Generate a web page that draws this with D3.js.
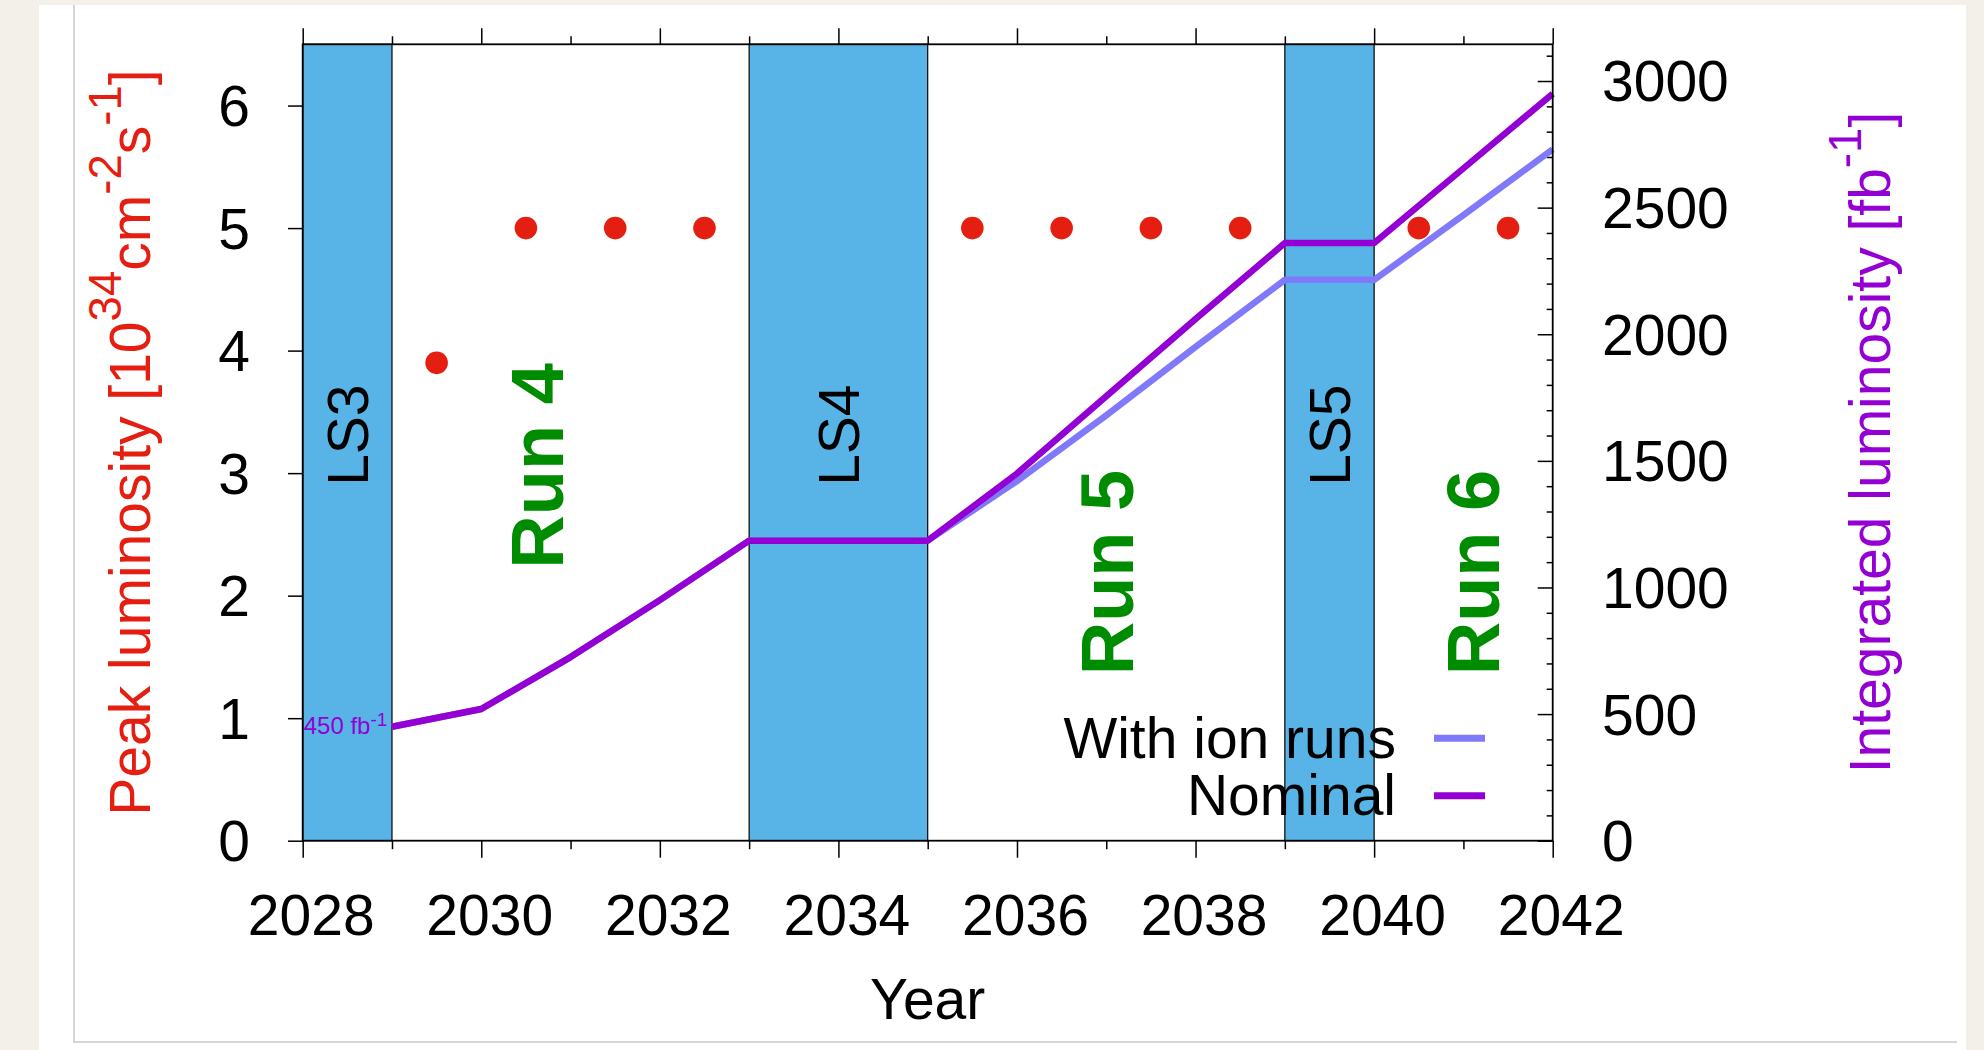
<!DOCTYPE html>
<html>
<head>
<meta charset="utf-8">
<script src="https://cdn.jsdelivr.net/npm/d3@7"></script>
<style>
  html, body { margin: 0; padding: 0; background: #f3f0ea; }
  svg { display: block; }
  text { font-family: "Liberation Sans", Arial, Helvetica, sans-serif; }
</style>
</head>
<body>
<svg id="chart" width="1984" height="1050"></svg>
<script>
// Integrated luminosity (fb^-1) at each year boundary
const lumiYears   = [2029, 2030, 2031, 2032, 2033, 2035, 2036, 2037, 2038, 2039, 2040, 2041, 2042];
const nominalLumi = [450, 520, 725, 950, 1185, 1185, 1450, 1755, 2060, 2360, 2360, 2655, 2950];
const ionRunsLumi = [450, 520, 725, 950, 1185, 1185, 1420, 1680, 1950, 2215, 2215, 2470, 2730];

// Peak luminosity per running year (10^34 cm^-2 s^-1)
const peakYears = [2029.5, 2030.5, 2031.5, 2032.5, 2035.5, 2036.5, 2037.5, 2038.5, 2040.5, 2041.5];
const peakLumi  = [3.9, 5, 5, 5, 5, 5, 5, 5, 5, 5];

// Long shutdowns
const shutdownNames = ["LS3", "LS4", "LS5"];
const shutdownStart = [2028, 2033, 2039];
const shutdownEnd   = [2029, 2035, 2040];

// Run labels: year of the label centre, peak-axis value where the text starts
const runNames = ["Run 4", "Run 5", "Run 6"];
const runYear  = [2030.62, 2037, 2041.1];
const runBase  = [2.22, 1.35, 1.35];

// Axis ticks
const yearTicks      = [2028, 2030, 2032, 2034, 2036, 2038, 2040, 2042];
const yearMinorTicks = [2029, 2031, 2033, 2035, 2037, 2039, 2041];
const peakTicks      = [0, 1, 2, 3, 4, 5, 6];
const intTicks       = [0, 500, 1000, 1500, 2000, 2500, 3000];
const intMinorTicks  = d3.range(0, 3101, 100).filter(v => v % 500 !== 0);

const legendNames = ["With ion runs", "Nominal"];
const startLumi = 450;

// ---- layout ----
const L = 302.7, R = 1552.7, T = 44.3, B = 840.7;
const FS = 57;
const C = {
  band: "#58b4e6", red: "#e41e10", nominal: "#9400d3", ion: "#8079fa",
  green: "#008c00", frame: "#000"
};

const svg = d3.select("#chart");

// page card
svg.append("rect").attr("x", 39).attr("y", 5).attr("width", 1927).attr("height", 1045).attr("fill", "#fff");
svg.append("path").attr("d", "M74,5V1042H1957").attr("fill", "none").attr("stroke", "#c9c9c9").attr("stroke-width", 1.5);

const x  = d3.scaleLinear().domain([2028, 2042]).range([L, R]);
const yL = d3.scaleLinear().domain([0, 6.5]).range([B, T]);
const yR = d3.scaleLinear().domain([0, 3145]).range([B, T]);

// shutdown bands
const bands = svg.append("g");
shutdownNames.forEach((n, i) => {
  bands.append("rect")
    .attr("x", x(shutdownStart[i])).attr("y", T)
    .attr("width", x(shutdownEnd[i]) - x(shutdownStart[i])).attr("height", B - T)
    .attr("fill", C.band).attr("stroke", "#000").attr("stroke-width", 1.2);
  const cx = (x(shutdownStart[i]) + x(shutdownEnd[i])) / 2;
  bands.append("text")
    .attr("transform", `translate(${cx},${yL(3.31)}) rotate(-90)`)
    .attr("text-anchor", "middle").attr("dy", "0.36em")
    .attr("font-size", FS).attr("fill", "#000").text(n);
});

// axes
function styleAxis(g) {
  g.select(".domain").remove();
  g.selectAll(".tick line").attr("stroke", "#000").attr("stroke-width", 1.5);
  g.selectAll("text").attr("font-size", FS).attr("fill", "#000")
    .attr("font-family", '"Liberation Sans", Arial, Helvetica, sans-serif');
}

const gBot = svg.append("g").attr("transform", `translate(0,${B})`)
  .call(d3.axisBottom(x).tickValues(yearTicks).tickSize(17).tickFormat(d3.format("d")));
styleAxis(gBot);
gBot.selectAll("text").attr("x", 8).attr("y", 0).attr("dy", 0)
  .attr("transform", `translate(0,${935 - B})`);
const gBotMinor = svg.append("g").attr("transform", `translate(0,${B})`)
  .call(d3.axisBottom(x).tickValues(yearMinorTicks).tickSize(8.5).tickFormat(""));
styleAxis(gBotMinor);

const gTop = svg.append("g").attr("transform", `translate(0,${T})`)
  .call(d3.axisTop(x).tickValues(yearTicks).tickSize(16).tickFormat(""));
styleAxis(gTop);
const gTopMinor = svg.append("g").attr("transform", `translate(0,${T})`)
  .call(d3.axisTop(x).tickValues(yearMinorTicks).tickSize(8).tickFormat(""));
styleAxis(gTopMinor);

const gLeft = svg.append("g").attr("transform", `translate(${L},0)`)
  .call(d3.axisLeft(yL).tickValues(peakTicks).tickSize(14.7).tickFormat(d3.format("d")));
styleAxis(gLeft);
gLeft.selectAll("text").attr("x", 250 - L).attr("dy", "0.35em");

const gRight = svg.append("g").attr("transform", `translate(${R},0)`)
  .call(d3.axisRight(yR).tickValues(intTicks).tickSize(-15).tickFormat(d3.format("d")));
styleAxis(gRight);
gRight.selectAll("text").attr("x", 1602 - R).attr("dy", "0.35em").attr("text-anchor", "start");
const gRightMinor = svg.append("g").attr("transform", `translate(${R},0)`)
  .call(d3.axisRight(yR).tickValues(intMinorTicks).tickSize(-6).tickFormat(""));
styleAxis(gRightMinor);

// integrated luminosity curves
const lumiLine = vals => d3.line()
  .x((d, i) => x(lumiYears[i]))
  .y(d => yR(d))(vals);

svg.append("path").attr("d", lumiLine(ionRunsLumi))
  .attr("fill", "none").attr("stroke", C.ion).attr("stroke-width", 6.5)
  .attr("stroke-linejoin", "round");
svg.append("path").attr("d", lumiLine(nominalLumi))
  .attr("fill", "none").attr("stroke", C.nominal).attr("stroke-width", 6.5)
  .attr("stroke-linejoin", "round");

// starting value label
const startLbl = svg.append("text")
  .attr("x", x(2028) + 1).attr("y", yR(startLumi) + 7.5)
  .attr("font-size", 24).attr("fill", C.nominal);
startLbl.append("tspan").text("450 fb");
startLbl.append("tspan").attr("dy", -8).attr("font-size", 19).text("-1");

// peak luminosity points
svg.append("g").selectAll("circle").data(peakLumi).join("circle")
  .attr("cx", (d, i) => x(peakYears[i])).attr("cy", d => yL(d))
  .attr("r", 11.3).attr("fill", C.red);

// run labels
runNames.forEach((n, i) => {
  svg.append("text")
    .attr("transform", `translate(${x(runYear[i])},${yL(runBase[i])}) rotate(-90)`)
    .attr("dy", "0.36em").attr("font-size", 74).attr("font-weight", "bold")
    .attr("fill", C.green).text(n);
});

// legend
const legendColors = [C.ion, C.nominal];
legendNames.forEach((n, i) => {
  const yc = 738.3 + i * 57.4;
  svg.append("text").attr("x", 1396).attr("y", yc + 19.5)
    .attr("text-anchor", "end").attr("font-size", FS).attr("fill", "#000").text(n);
  svg.append("line").attr("x1", 1434).attr("x2", 1485).attr("y1", yc).attr("y2", yc)
    .attr("stroke", legendColors[i]).attr("stroke-width", 7);
});

// plot frame
svg.append("rect").attr("x", L).attr("y", T).attr("width", R - L).attr("height", B - T)
  .attr("fill", "none").attr("stroke", C.frame).attr("stroke-width", 1.8);

// axis titles
svg.append("text").attr("x", (L + R) / 2).attr("y", 1019)
  .attr("text-anchor", "middle").attr("font-size", FS).attr("fill", "#000").text("Year");

const sup = 0.8 * FS, shift = 29;
const yTitle = svg.append("text")
  .attr("transform", `translate(149.6,${(T + B) / 2}) rotate(-90)`)
  .attr("text-anchor", "middle").attr("font-size", FS).attr("fill", C.red);
yTitle.append("tspan").text("Peak luminosity [10");
yTitle.append("tspan").attr("dy", -shift).attr("font-size", sup).text("34");
yTitle.append("tspan").attr("dy", shift).text("cm");
yTitle.append("tspan").attr("dy", -shift).attr("font-size", sup).text("-2");
yTitle.append("tspan").attr("dy", shift).text("s");
yTitle.append("tspan").attr("dy", -shift).attr("font-size", sup).text("-1");
yTitle.append("tspan").attr("dy", shift).text("]");

const y2Title = svg.append("text")
  .attr("transform", `translate(1889.8,${(T + B) / 2}) rotate(-90)`)
  .attr("text-anchor", "middle").attr("font-size", FS).attr("fill", C.nominal);
y2Title.append("tspan").text("Integrated luminosity [fb");
y2Title.append("tspan").attr("dy", -shift).attr("font-size", sup).text("-1");
y2Title.append("tspan").attr("dy", shift).text("]");
</script>
</body>
</html>
